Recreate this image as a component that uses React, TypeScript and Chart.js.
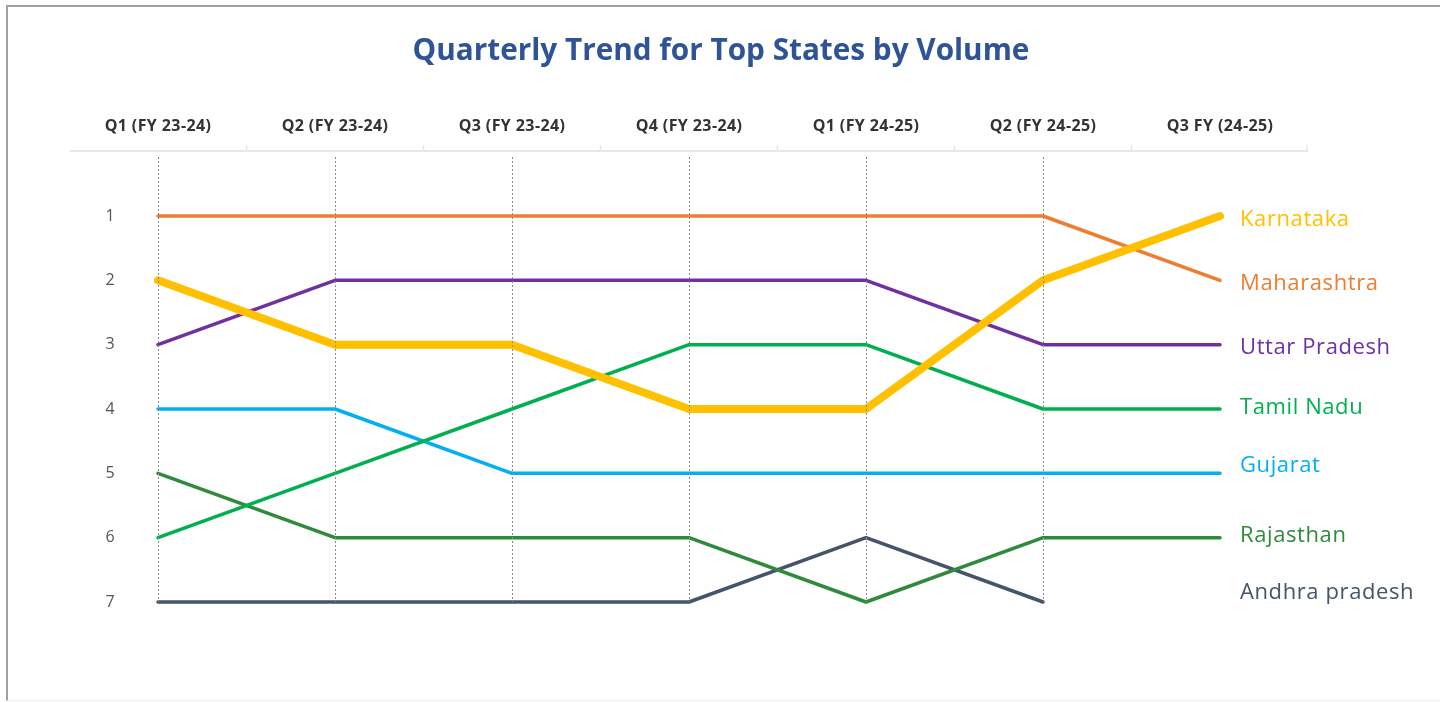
import React, { useEffect, useRef } from "react";
import { Chart, registerables } from "chart.js";

Chart.register(...registerables);

const quarters = [
  "Q1 (FY 23-24)",
  "Q2 (FY 23-24)",
  "Q3 (FY 23-24)",
  "Q4 (FY 23-24)",
  "Q1 (FY 24-25)",
  "Q2 (FY 24-25)",
  "Q3 FY (24-25)",
];
const rankTicks = [1, 2, 3, 4, 5, 6, 7];

const karnataka = [2, 3, 3, 4, 4, 2, 1];
const maharashtra = [1, 1, 1, 1, 1, 1, 2];
const uttarPradesh = [3, 2, 2, 2, 2, 3, 3];
const tamilNadu = [6, 5, 4, 3, 3, 4, 4];
const gujarat = [4, 4, 5, 5, 5, 5, 5];
const rajasthan = [5, 6, 6, 6, 7, 6, 6];
const andhraPradesh = [7, 7, 7, 7, 6, 7, null];

const TITLE = "Quarterly Trend for Top States by Volume";

const seriesDefs = [
  { name: "Karnataka", data: karnataka, color: "#FFC000", width: 8, labelRank: 1, dy: 4 },
  { name: "Maharashtra", data: maharashtra, color: "#ED7D31", width: 3.5, labelRank: 2, dy: 3 },
  { name: "Uttar Pradesh", data: uttarPradesh, color: "#7030A0", width: 3.5, labelRank: 3, dy: 3 },
  { name: "Tamil Nadu", data: tamilNadu, color: "#00B050", width: 3.5, labelRank: 4, dy: -1 },
  { name: "Gujarat", data: gujarat, color: "#00B0F0", width: 3.5, labelRank: 5, dy: -8 },
  { name: "Rajasthan", data: rajasthan, color: "#2E8B3C", width: 3.5, labelRank: 6, dy: -2 },
  { name: "Andhra pradesh", data: andhraPradesh, color: "#44546A", width: 3.5, labelRank: 7, dy: -9 },
];

const FONT = "'Open Sans', 'Noto Sans', sans-serif";

const decor = {
  id: "decor",
  beforeDatasetsDraw(chart: any) {
    const ctx = chart.ctx as any;
    const xs = chart.scales.x;
    const ys = chart.scales.y;
    ctx.save();
    // title
    ctx.fillStyle = "#2E5496";
    ctx.textAlign = "center";
    ctx.textBaseline = "middle";
    let size = 28;
    ctx.font = `bold ${size}px ${FONT}`;
    const w = ctx.measureText(TITLE).width;
    size = (size * 617) / w;
    ctx.font = `bold ${size}px ${FONT}`;
    ctx.fillText(TITLE, 721, 52);

    // header labels
    ctx.fillStyle = "#333333";
    ctx.font = `bold 16px ${FONT}`;
    ctx.letterSpacing = "0.4px";
    quarters.forEach((q, i) => {
      ctx.fillText(q, xs.getPixelForValue(i), 126);
    });
    ctx.letterSpacing = "0px";

    // header rule with tick marks
    ctx.strokeStyle = "#E3E8EF";
    ctx.lineWidth = 2;
    ctx.beginPath();
    ctx.moveTo(70, 151);
    ctx.lineTo(1308, 151);
    ctx.stroke();
    ctx.lineWidth = 1.5;
    for (let i = 0; i < quarters.length; i++) {
      const x =
        i < quarters.length - 1
          ? (xs.getPixelForValue(i) + xs.getPixelForValue(i + 1)) / 2
          : 1307;
      ctx.beginPath();
      ctx.moveTo(x, 151);
      ctx.lineTo(x, 145);
      ctx.stroke();
    }

    // rank labels
    ctx.fillStyle = "#555555";
    ctx.font = `16px ${FONT}`;
    rankTicks.forEach((r) => {
      ctx.fillText(String(r), 110, ys.getPixelForValue(r));
    });
    ctx.restore();
  },
  afterDatasetsDraw(chart: any) {
    const ctx = chart.ctx as any;
    const xs = chart.scales.x;
    const ys = chart.scales.y;
    const area = chart.chartArea;
    ctx.save();
    ctx.strokeStyle = "#8A8A8A";
    ctx.lineWidth = 1;
    ctx.setLineDash([2, 2]);
    for (let i = 0; i < quarters.length - 1; i++) {
      const x = Math.round(xs.getPixelForValue(i)) + 0.5;
      ctx.beginPath();
      ctx.moveTo(x, 157);
      ctx.lineTo(x, area.bottom);
      ctx.stroke();
    }
    ctx.setLineDash([]);
    ctx.textAlign = "left";
    ctx.textBaseline = "middle";
    ctx.font = `22px ${FONT}`;
    ctx.letterSpacing = "0.6px";
    const lastX = xs.getPixelForValue(quarters.length - 1);
    seriesDefs.forEach((s) => {
      ctx.fillStyle = s.color;
      ctx.fillText(s.name, lastX + 20, ys.getPixelForValue(s.labelRank) + s.dy);
    });
    ctx.letterSpacing = "0px";
    ctx.restore();
  },
};

export default function App() {
  const ref = useRef<HTMLCanvasElement | null>(null);
  useEffect(() => {
    if (!ref.current) return;
    const chart = new Chart(ref.current, {
      type: "line",
      data: {
        labels: quarters,
        datasets: seriesDefs.map((s) => ({
          label: s.name,
          data: s.data as any,
          borderColor: s.color,
          backgroundColor: s.color,
          borderWidth: s.width,
          pointRadius: 0,
          pointHoverRadius: 0,
          tension: 0,
          borderCapStyle: "round" as const,
          borderJoinStyle: "round" as const,
          clip: false as any,
          spanGaps: false,
        })),
      },
      options: {
        animation: false,
        responsive: false,
        devicePixelRatio: 1,
        events: [],
        layout: { padding: { left: 158, right: 220, top: 216, bottom: 100 } },
        plugins: {
          legend: { display: false },
          title: { display: false },
          tooltip: { enabled: false },
        },
        scales: {
          x: { type: "category", offset: false, display: false },
          y: { type: "linear", min: 1, max: 7, reverse: true, display: false },
        },
      },
      plugins: [decor],
    });
    return () => chart.destroy();
  }, []);
  return (
    <div style={{ position: "fixed", left: 0, top: 0, width: 1440, height: 702, background: "#fff" }}>
      <div
        style={{
          position: "absolute",
          left: 6,
          top: 5,
          right: 0,
          bottom: 1,
          borderLeft: "2px solid #A0A0A0",
          borderTop: "2px solid #A0A0A0",
          borderBottom: "1px solid #EEEEEE",
        }}
      />
      <canvas ref={ref} width={1440} height={702} style={{ position: "absolute", left: 0, top: 0 }} />
    </div>
  );
}
